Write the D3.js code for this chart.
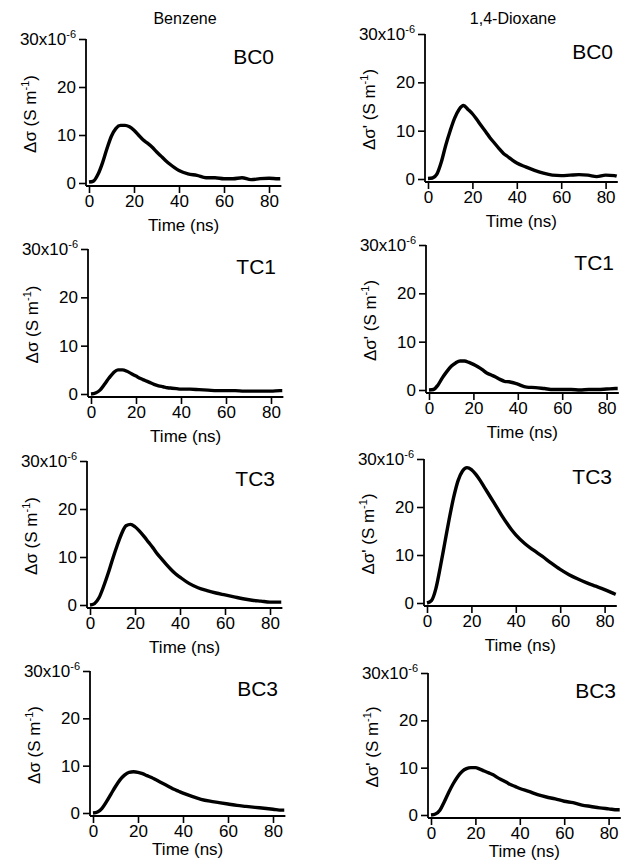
<!DOCTYPE html>
<html>
<head>
<meta charset="utf-8">
<script src="https://cdn.jsdelivr.net/npm/d3@7"></script>
<style>
  body { margin: 0; background: #fff; }
  text { font-family: "Liberation Sans", Arial, Helvetica, sans-serif; fill: #000; }
</style>
</head>
<body>
<svg width="621" height="863"></svg>
<script>
// time axis (ns), shared by every trace
var time = [0,2,4,6,8,10,12,14,16,18,20,22,24,26,28,30,32,34,36,38,40,44,48,52,56,60,64,68,72,76,80,84,85];

// photoconductivity transients, units of 1e-6 S/m
var benzeneBC0 = [0.2,0.4,1.8,4.2,7.2,9.8,11.4,12.0,12.0,11.7,11.0,10.0,9.0,8.3,7.5,6.5,5.6,4.7,3.9,3.2,2.6,1.9,1.6,1.1,1.1,0.9,0.9,1.1,0.7,0.9,1.0,0.9,0.9];
var dioxaneBC0 = [0.1,0.2,1.0,3.5,7.0,10.0,12.6,14.4,15.2,14.4,13.5,12.3,11.0,9.8,8.5,7.4,6.3,5.3,4.6,3.9,3.3,2.5,1.8,1.2,0.8,0.7,0.8,0.9,0.8,0.5,0.8,0.7,0.6];
var benzeneTC1 = [0,0.2,0.8,2.0,3.3,4.4,5.0,5.0,4.7,4.2,3.7,3.2,2.8,2.4,2.0,1.7,1.5,1.3,1.2,1.1,1.0,1.0,0.9,0.8,0.7,0.7,0.7,0.6,0.6,0.6,0.6,0.7,0.7];
var dioxaneTC1 = [0,0.1,1.0,2.5,3.8,4.9,5.6,6.0,6.0,5.7,5.3,4.8,4.2,3.5,3.1,2.7,2.2,1.8,1.7,1.5,1.2,0.6,0.5,0.3,0.1,0.1,0.1,0.0,0.1,0.1,0.2,0.3,0.3];
var benzeneTC3 = [0,0.3,1.5,3.8,6.5,9.5,12.3,14.8,16.5,16.8,16.3,15.4,14.3,13.1,11.9,10.6,9.5,8.4,7.4,6.5,5.8,4.5,3.6,3.0,2.5,2.1,1.7,1.3,1.0,0.8,0.6,0.6,0.6];
var dioxaneTC3 = [0,0.5,3.0,7.5,12.5,17.5,22.0,25.5,27.5,28.2,27.8,26.8,25.5,24.0,22.5,21.0,19.5,18.0,16.6,15.3,14.2,12.4,11.0,9.7,8.3,7.0,5.9,5.0,4.2,3.5,2.8,2.0,1.8];
var benzeneBC3 = [0,0.2,1.0,2.4,4.0,5.6,7.0,8.0,8.6,8.7,8.6,8.3,7.9,7.5,7.0,6.5,6.0,5.5,5.0,4.6,4.2,3.5,2.9,2.5,2.2,1.9,1.6,1.4,1.2,1.0,0.8,0.6,0.6];
var dioxaneBC3 = [0,0.2,1.0,2.8,4.8,6.6,8.1,9.2,9.8,10.0,10.0,9.7,9.3,8.9,8.5,7.9,7.4,6.9,6.4,6.0,5.6,5.0,4.3,3.8,3.4,2.9,2.6,2.1,1.8,1.5,1.3,1.1,1.1];

var sampleNames = ["BC0", "TC1", "TC3", "BC3"];
var solvents = ["Benzene", "1,4-Dioxane"];
var yLabels = ["\u0394\u03c3 (S m", "\u0394\u03c3' (S m"];
var xTicks = [0, 20, 40, 60, 80];
var yTicks = [0, 10, 20, 30];

var series = [
  [benzeneBC0, benzeneTC1, benzeneTC3, benzeneBC3],
  [dioxaneBC0, dioxaneTC1, dioxaneTC3, dioxaneBC3]
];

// layout of each panel (axis x, top of y axis, zero line) per column/row
var axisLeftX = [[86, 88, 87, 90], [425, 426, 424, 428]];
var axisTop   = [[39, 249, 461, 671], [34, 245, 459, 673]];
var axisZero  = [[183, 394, 605, 813], [179, 390, 603, 815]];
var pxPerNs = [2.25, 2.22];
var timeLabelDy = [42, 42, 42, 36];

var svg = d3.select("svg");

// column headings
solvents.forEach(function(s, c) {
  svg.append("text")
    .attr("x", c === 0 ? 185 : 513)
    .attr("y", 24)
    .attr("text-anchor", "middle")
    .attr("font-size", "16px")
    .text(s);
});

for (var c = 0; c < 2; c++) {
  for (var r = 0; r < 4; r++) {
    drawPanel(c, r);
  }
}

function drawPanel(c, r) {
  var ox = axisLeftX[c][r],
      top = axisTop[c][r],
      zero = axisZero[c][r],
      xEnd = ox + 3 + 85.5 * pxPerNs[c];

  var x = d3.scaleLinear().domain([0, 85.5]).range([ox + 3, xEnd]);
  var y = d3.scaleLinear().domain([0, 30]).range([zero, top]);

  var g = svg.append("g");

  // axis lines
  g.append("line")
    .attr("x1", ox).attr("x2", ox)
    .attr("y1", top).attr("y2", zero + 3)
    .attr("stroke", "#000").attr("stroke-width", 1.8);
  g.append("line")
    .attr("x1", ox).attr("x2", xEnd)
    .attr("y1", zero + 3).attr("y2", zero + 3)
    .attr("stroke", "#000").attr("stroke-width", 1.8);

  // y axis
  var ya = g.append("g")
    .attr("transform", "translate(" + ox + ",0)")
    .call(d3.axisLeft(y).tickValues(yTicks).tickSize(7).tickPadding(3));
  ya.select(".domain").remove();
  ya.selectAll(".tick line").attr("stroke-width", 1.6);
  ya.selectAll(".tick text")
    .attr("font-size", "17px")
    .attr("font-family", null)
    .each(function(d) {
      if (d === 30) {
        var t = d3.select(this).text(null);
        t.append("tspan").text("30x10");
        t.append("tspan").attr("dy", "-7").attr("font-size", "11px").text("-6");
      }
    });

  // x axis
  var xa = g.append("g")
    .attr("transform", "translate(0," + (zero + 3) + ")")
    .call(d3.axisBottom(x).tickValues(xTicks).tickSize(7).tickPadding(2));
  xa.select(".domain").remove();
  xa.selectAll(".tick line").attr("stroke-width", 1.6);
  xa.selectAll(".tick text")
    .attr("font-size", "17px")
    .attr("font-family", null);

  // axis titles
  g.append("text")
    .attr("x", (ox + xEnd) / 2)
    .attr("y", zero + timeLabelDy[r] + 6)
    .attr("text-anchor", "middle")
    .attr("font-size", "17px")
    .text("Time (ns)");

  var yt = g.append("text")
    .attr("transform", "translate(" + (ox - 50) + "," + ((top + zero) / 2 + 3) + ") rotate(-90)")
    .attr("text-anchor", "middle")
    .attr("font-size", "17px");
  yt.append("tspan").text(yLabels[c]);
  yt.append("tspan").attr("dy", "-7").attr("font-size", "11px").text("-1");
  yt.append("tspan").attr("dy", "7").text(")");

  // sample label
  g.append("text")
    .attr("x", ox + 188)
    .attr("y", top + 25)
    .attr("text-anchor", "end")
    .attr("font-size", "21px")
    .text(sampleNames[r]);

  // trace
  var line = d3.line()
    .x(function(d, i) { return x(time[i]); })
    .y(function(d) { return y(d); })
    .curve(d3.curveMonotoneX);

  g.append("path")
    .datum(series[c][r])
    .attr("fill", "none")
    .attr("stroke", "#000")
    .attr("stroke-width", 3.4)
    .attr("stroke-linejoin", "round")
    .attr("d", line);
}
</script>
</body>
</html>
